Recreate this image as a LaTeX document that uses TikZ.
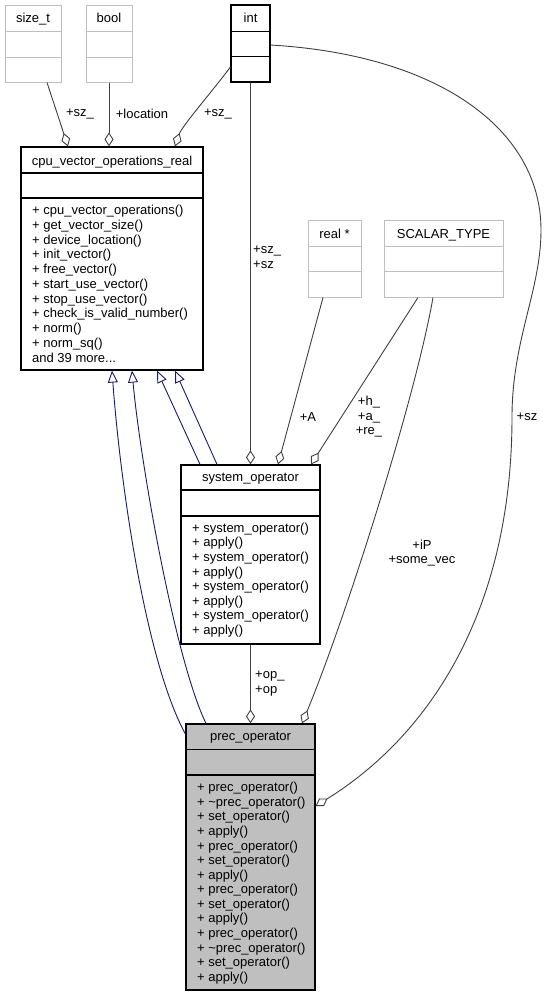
\documentclass[tikz,border=0pt]{standalone}
\usepackage{fontspec}
\setmainfont{Liberation Sans}
\usetikzlibrary{arrows.meta}
\definecolor{edgegray}{HTML}{404040}
\definecolor{boxgray}{HTML}{BFBFBF}
\definecolor{inhblue}{HTML}{191970}
\begin{document}
\begin{tikzpicture}[x=1pt,y=-1pt,
  lbl/.style={font=\fontsize{13}{14.5}\selectfont, inner sep=0pt, align=center},
  lbll/.style={font=\fontsize{13}{14.5}\selectfont, inner sep=0pt, align=left, anchor=west},
  txt/.style={font=\fontsize{13}{14.5}\selectfont, inner sep=0pt, anchor=base west},
  ttl/.style={font=\fontsize{13}{14.5}\selectfont, inner sep=0pt, anchor=base},
  cls/.style={draw=black, line width=1.2pt, fill=white, inner sep=0pt},
  ext/.style={draw=boxgray, line width=1pt, fill=white, inner sep=0pt},
  clsdiv/.style={draw=black, line width=1.2pt},
  extdiv/.style={draw=boxgray, line width=1pt},
  assoc/.style={draw=edgegray, line width=0.9pt, -{Diamond[open,length=14pt,width=9pt]}},
  inh/.style={draw=inhblue, line width=0.9pt, -{Triangle[open,length=12pt,width=10pt]}},
]
\useasboundingbox (0,0) rectangle (547,997);
\fill[white] (0,0) rectangle (547,997);

% ---- boxes ----
\node[ext, minimum width=56pt, minimum height=77pt] (sizet) at (33,43.5) {};
\node[ext, minimum width=46pt, minimum height=77pt] (bool) at (109,43.5) {};
\node[cls, minimum width=39pt, minimum height=77pt] (int) at (250.5,43.5) {};
\node[cls, minimum width=182pt, minimum height=223pt] (cpu) at (112,258.5) {};
\node[ext, minimum width=53pt, minimum height=77pt] (real) at (334.5,258.5) {};
\node[ext, minimum width=119pt, minimum height=77pt] (scalar) at (443.5,258.5) {};
\node[cls, minimum width=139pt, minimum height=179pt] (sys) at (250.5,554.5) {};
\node[cls, fill=boxgray, minimum width=129pt, minimum height=266pt] (prec) at (250.5,857) {};

% dividers
\foreach \b in {sizet,bool}{
  \draw[extdiv] (\b.west |- 0,31.5) -- (\b.east |- 0,31.5);
  \draw[extdiv] (\b.west |- 0,57) -- (\b.east |- 0,57);
}
\draw[clsdiv] (int.west |- 0,31.5) -- (int.east |- 0,31.5);
\draw[clsdiv] (int.west |- 0,56.5) -- (int.east |- 0,56.5);
\foreach \b in {real,scalar}{
  \draw[extdiv] (\b.west |- 0,246) -- (\b.east |- 0,246);
  \draw[extdiv] (\b.west |- 0,271) -- (\b.east |- 0,271);
}
\draw[clsdiv] (cpu.west |- 0,173) -- (cpu.east |- 0,173);
\draw[clsdiv] (cpu.west |- 0,198) -- (cpu.east |- 0,198);
\draw[clsdiv] (sys.west |- 0,490) -- (sys.east |- 0,490);
\draw[clsdiv] (sys.west |- 0,516) -- (sys.east |- 0,516);
\draw[clsdiv] (prec.west |- 0,749.5) -- (prec.east |- 0,749.5);
\draw[clsdiv] (prec.west |- 0,775) -- (prec.east |- 0,775);

% titles
\node[ttl] (sizett) at (33,22.5) {size\_t};
\node[ttl] (boolt) at (109,22.5) {bool};
\node[ttl] (intt) at (250.5,22.5) {int};
\node[ttl] (cput) at (112,165) {cpu\_vector\_operations\_real};
\node[ttl] (realt) at (334.5,238) {real *};
\node[ttl] (scalart) at (443.5,238) {SCALAR\_TYPE};
\node[ttl] (syst) at (250.5,481) {system\_operator};
\node[ttl] (prect) at (250.5,740.5) {prec\_operator};

% members
\foreach \t [count=\i from 0] in {{+ cpu\_vector\_operations()},{+ get\_vector\_size()},{+ device\_location()},{+ init\_vector()},{+ free\_vector()},{+ start\_use\_vector()},{+ stop\_use\_vector()},{+ check\_is\_valid\_number()},{+ norm()},{+ norm\_sq()}}
  \node[txt] (cpum\i) at (32,{214.5+14.75*\i}) {\t};
\node[txt] (cpum10) at (32,362) {and 39 more...};
\foreach \t [count=\i from 0] in {{+ system\_operator()},{+ apply()},{+ system\_operator()},{+ apply()},{+ system\_operator()},{+ apply()},{+ system\_operator()},{+ apply()}}
  \node[txt] (sysm\i) at (192,{532.2+14.6*\i}) {\t};
\foreach \t [count=\i from 0] in {{+ prec\_operator()},{+ \textasciitilde prec\_operator()},{+ set\_operator()},{+ apply()},{+ prec\_operator()},{+ set\_operator()},{+ apply()},{+ prec\_operator()},{+ set\_operator()},{+ apply()},{+ prec\_operator()},{+ \textasciitilde prec\_operator()},{+ set\_operator()},{+ apply()}}
  \node[txt] (precm\i) at (197,{791.8+14.57*\i}) {\t};

% ---- associations ----
\draw[assoc] (sizet.south -| 47,0) -- (cpu.north -| 68,0);
\draw[assoc] (bool.south) -- (cpu.north -| 109,0);
\draw[assoc] (int.west |- 0,67) .. controls (215,88) and (182,126) .. (cpu.north -| 175,0);
\draw[assoc] (int.south) -- (int.south |- sys.north);
\draw[assoc] (real.south -| 323,0) -- (sys.north -| 278,0);
\draw[assoc] (scalar.south -| 418,0) -- (sys.north -| 311,0);
\draw[assoc] (scalar.south -| 433,0) .. controls (415,400) and (345,620) .. (prec.north -| 302,0);
\draw[assoc] (sys.south) -- (prec.north);
\draw[assoc] (int.east |- 0,45) .. controls (440,55) and (541,130) .. (541,230)
   .. controls (541,290) and (512,340) .. (512,417)
   .. controls (512,610) and (430,735) .. (prec.east |- 0,806);

% ---- inheritance ----
\draw[inh] (sys.north -| 200,0) -- (cpu.south -| 157,0);
\draw[inh] (sys.north -| 217,0) -- (cpu.south -| 175,0);
\draw[inh] (prec.west |- 0,734) .. controls (145,660) and (120,480) .. (cpu.south -| 112,0);
\draw[inh] (prec.north -| 206,0) .. controls (175,660) and (140,460) .. (cpu.south -| 132,0);

% ---- labels ----
\node[lbl] (l1) at (80,114) {+sz\_};
\node[lbl] (l2) at (142,114) {+location};
\node[lbl] (l3) at (218,114) {+sz\_};
\node[lbll] (l4) at (253,257.5) {+sz\_\\+sz};
\node[lbl] (l5) at (308,417) {+A};
\node[lbl] (l6) at (369,417) {+h\_\\+a\_\\+re\_};
\node[lbl] (l7) at (422,553) {+iP\\+some\_vec};
\node[lbl] (l8) at (527,417) {+sz};
\node[lbll] (l9) at (255,683.5) {+op\_\\+op};
\end{tikzpicture}
\end{document}
